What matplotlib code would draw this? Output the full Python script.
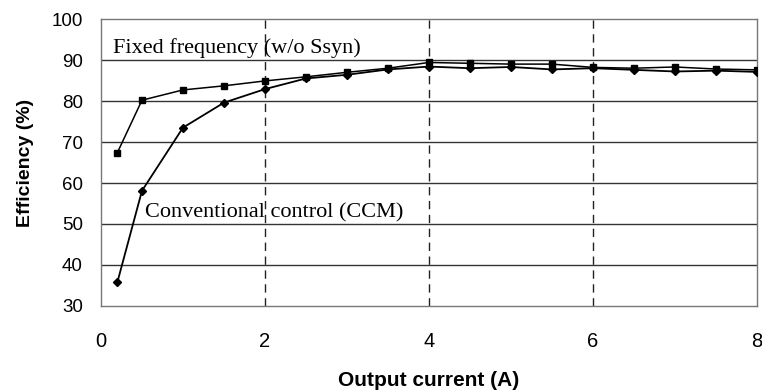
import matplotlib
matplotlib.use("Agg")
import matplotlib.pyplot as plt

current = [0.2, 0.5, 1.0, 1.5, 2.0, 2.5, 3.0, 3.5, 4.0, 4.5, 5.0, 5.5, 6.0, 6.5, 7.0, 7.5, 8.0]
eff_fixed = [67.4, 80.2, 82.7, 83.7, 84.9, 85.9, 87.0, 88.0, 89.4, 89.2, 89.0, 89.0, 88.2, 88.0, 88.3, 87.8, 87.6]
eff_ccm = [35.8, 58.1, 73.5, 79.6, 82.9, 85.5, 86.4, 87.7, 88.4, 88.0, 88.3, 87.7, 88.0, 87.6, 87.2, 87.4, 87.1]
xticks = [0, 2, 4, 6, 8]
yticks = [30, 40, 50, 60, 70, 80, 90, 100]

fig = plt.figure(figsize=(7.62, 3.92), dpi=100)
ax = fig.add_axes([0.1325, 0.2194, 0.8609, 0.7321])

ax.plot(current, eff_fixed, color="black", lw=1.1, marker="s", ms=5, zorder=3)
ax.plot(current, eff_ccm, color="black", lw=1.3, marker="D", ms=4.5, zorder=3)

ax.set_xlim(0, 8)
ax.set_ylim(30, 100)
ax.set_xticks(xticks)
ax.set_yticks(yticks)
for y in yticks[1:-1]:
    ax.axhline(y, color="#333333", lw=1.0, zorder=1)
for x in xticks[1:-1]:
    ax.axvline(x, color="#222222", lw=1.0, ls=(0, (6, 4)), zorder=1)
for s in ax.spines.values():
    s.set_color("#777777")
    s.set_linewidth(1.0)

ax.tick_params(length=0)
ax.tick_params(axis="x", pad=18.5, labelsize=14.5)
ax.tick_params(axis="y", pad=13, labelsize=13.5)
for lbl in ax.get_xticklabels() + ax.get_yticklabels():
    lbl.set_family("Liberation Sans")

ax.set_xlabel("Output current (A)", fontsize=15, fontweight="bold", family="Liberation Sans", labelpad=14.5)
ax.set_ylabel("Efficiency (%)", fontsize=14, fontweight="bold", family="Liberation Sans", labelpad=12.5)

ax.text(0.146, 91.7, "Fixed frequency (w/o Ssyn)", fontsize=16, family="Liberation Serif", va="baseline", ha="left")
ax.text(0.537, 51.6, "Conventional control (CCM)", fontsize=16, family="Liberation Serif", va="baseline", ha="left")

fig.savefig("out.png", dpi=100)
